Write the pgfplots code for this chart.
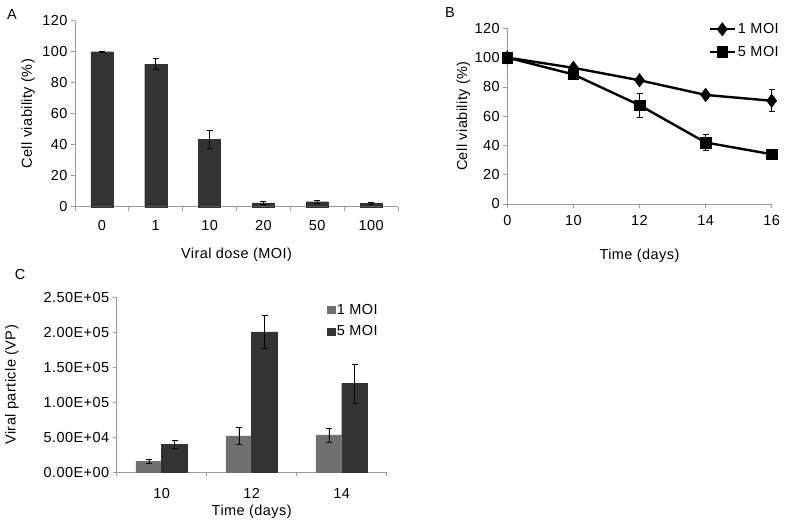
\documentclass[border=0pt]{standalone}
\usepackage{fontspec}
\setmainfont{Liberation Sans}[LetterSpace=3]
\usepackage{pgfplots}
\usepackage{pgfplotstable}
\pgfplotsset{compat=1.18}

\definecolor{bardark}{HTML}{333333}
\definecolor{barlight}{HTML}{707070}
\definecolor{axgray}{HTML}{9A9A9A}

\pgfplotstableread{
x y e
0 100 0.4
1 92 3.5
2 43.5 6
3 2.5 1.2
4 3.2 1.2
5 2.2 0.5
}\dataA

\pgfplotstableread{
x y e
0 100 1
1 93 1.5
2 84.5 1.5
3 74.5 2
4 70.5 7.5
}\dataBone

\pgfplotstableread{
x y e
0 100 1
1 88.5 1.5
2 67.5 8
3 42 5.5
4 34 1
}\dataBfive

\pgfplotstableread{
x y e
0 16000 3000
1 52000 12500
2 53500 10000
}\dataCone

\pgfplotstableread{
x y e
0 40000 5700
1 200500 23500
2 127000 28000
}\dataCfive

\pgfplotsset{
  myaxis/.style={
    scale only axis,
    font=\fontsize{14.5pt}{17pt}\selectfont,
    /pgf/number format/assume math mode=true,
    axis x line*=bottom,
    axis y line*=left,
    axis line style={axgray, line width=0.7pt, -},
    tick style={axgray, line width=0.7pt},
    tick align=outside,
    major tick length=4pt,
    minor tick length=4pt,
    clip=false,
  },
  myerr/.style={
    error bars/y dir=both, error bars/y explicit,
    error bars/error bar style={black, line width=0.6pt},
    error bars/error mark options={rotate=90, mark size=3pt, black, line width=0.6pt},
  },
}

\begin{document}
\begin{tikzpicture}[x=1pt,y=1pt]
\useasboundingbox (0pt,0pt) rectangle (793pt,-524pt);

% Panel labels
\node[font=\fontsize{14.5pt}{17pt}\selectfont] at (12pt,-15pt) {A};
\node[font=\fontsize{14.5pt}{17pt}\selectfont] at (450pt,-13pt) {B};
\node[font=\fontsize{14.5pt}{17pt}\selectfont] at (20pt,-275pt) {C};

% Panel A
\begin{axis}[myaxis,
  at={(75pt,-206.7pt)}, anchor=south west,
  width=323pt, height=186pt,
  xmin=-0.5, xmax=5.5, ymin=0, ymax=120,
  ytick={0,20,...,120},
  xtick={0,...,5}, xticklabels={0,1,10,20,50,100},
  major x tick style={draw=none},
  minor xtick={-0.5,0.5,...,5.5},
  xticklabel style={yshift=-6pt},
  ylabel={Cell viability (\%)},
  ylabel style={at={(axis description cs:-0.1455,0.5)}, anchor=center},
  xlabel={Viral dose (MOI)},
  xlabel style={at={(axis description cs:0.5,-0.258)}, anchor=center},
]
\addplot[ybar, bar width=0.41, fill=bardark, draw=bardark, myerr] table[x=x, y=y, y error=e] {\dataA};
\end{axis}

% Panel B
\begin{axis}[myaxis,
  at={(507.3pt,-204pt)}, anchor=south west,
  width=264.4pt, height=175.7pt,
  xmin=0, xmax=4, ymin=0, ymax=120,
  ytick={0,20,...,120},
  xtick={0,...,4}, xticklabels={0,10,12,14,16},
  xticklabel style={yshift=-4pt},
  ylabel={Cell viability (\%)},
  ylabel style={at={(axis description cs:-0.166,0.5)}, anchor=center},
  xlabel={Time (days)},
  xlabel style={at={(axis description cs:0.5,-0.295)}, anchor=center},
  legend style={draw=none, fill=none, at={(axis description cs:1.035,1.04)}, anchor=north east,
    font=\fontsize{14.5pt}{17pt}\selectfont, row sep=7pt, inner sep=0pt,
    /tikz/every even column/.append style={column sep=4pt}},
  legend cell align=left,
  legend image code/.code={\draw[#1, mark repeat=2, mark phase=2] plot coordinates {(0pt,0pt) (12.5pt,0pt) (25pt,0pt)};},
]
\addplot[black, line width=2.4pt, mark=diamond*, mark size=6.7pt, mark options={line width=0.5pt}, myerr]
  table[x=x, y=y, y error=e] {\dataBone};
\addlegendentry{1 MOI}
\addplot[black, line width=2.4pt, mark=square*, mark size=5.3pt, mark options={line width=0.5pt}, myerr]
  table[x=x, y=y, y error=e] {\dataBfive};
\addlegendentry{5 MOI}
\end{axis}

% Panel C
\begin{axis}[myaxis,
  at={(116.7pt,-472.3pt)}, anchor=south west,
  width=270pt, height=175pt,
  ybar=0pt, bar width=25.7pt,
  xmin=-0.5, xmax=2.5, ymin=0, ymax=250000,
  ytick={0,50000,100000,150000,200000,250000},
  yticklabels={0.00E+00,5.00E+04,1.00E+05,1.50E+05,2.00E+05,2.50E+05},
  scaled y ticks=false,
  xtick={0,1,2}, xticklabels={10,12,14},
  major x tick style={draw=none},
  minor xtick={-0.5,0.5,1.5,2.5},
  xticklabel style={yshift=-9pt},
  ylabel={Viral particle (VP)},
  ylabel style={at={(axis description cs:-0.388,0.5)}, anchor=center},
  xlabel={Time (days)},
  xlabel style={at={(axis description cs:0.5,-0.225)}, anchor=center},
  legend style={draw=none, fill=none, at={(axis description cs:0.975,0.975)}, anchor=north east,
    font=\fontsize{14.5pt}{17pt}\selectfont, row sep=6pt, inner sep=0pt,
    /tikz/every even column/.append style={column sep=5pt}},
  legend cell align=left,
  legend image code/.code={\fill[#1] (0pt,-3.6pt) rectangle (7.2pt,3.6pt);},
]
\addplot[fill=barlight, draw=barlight, myerr]
  table[x=x, y=y, y error=e] {\dataCone};
\addlegendentry{1 MOI}
\addplot[fill=bardark, draw=bardark, myerr]
  table[x=x, y=y, y error=e] {\dataCfive};
\addlegendentry{5 MOI}
\end{axis}
\end{tikzpicture}
\end{document}
